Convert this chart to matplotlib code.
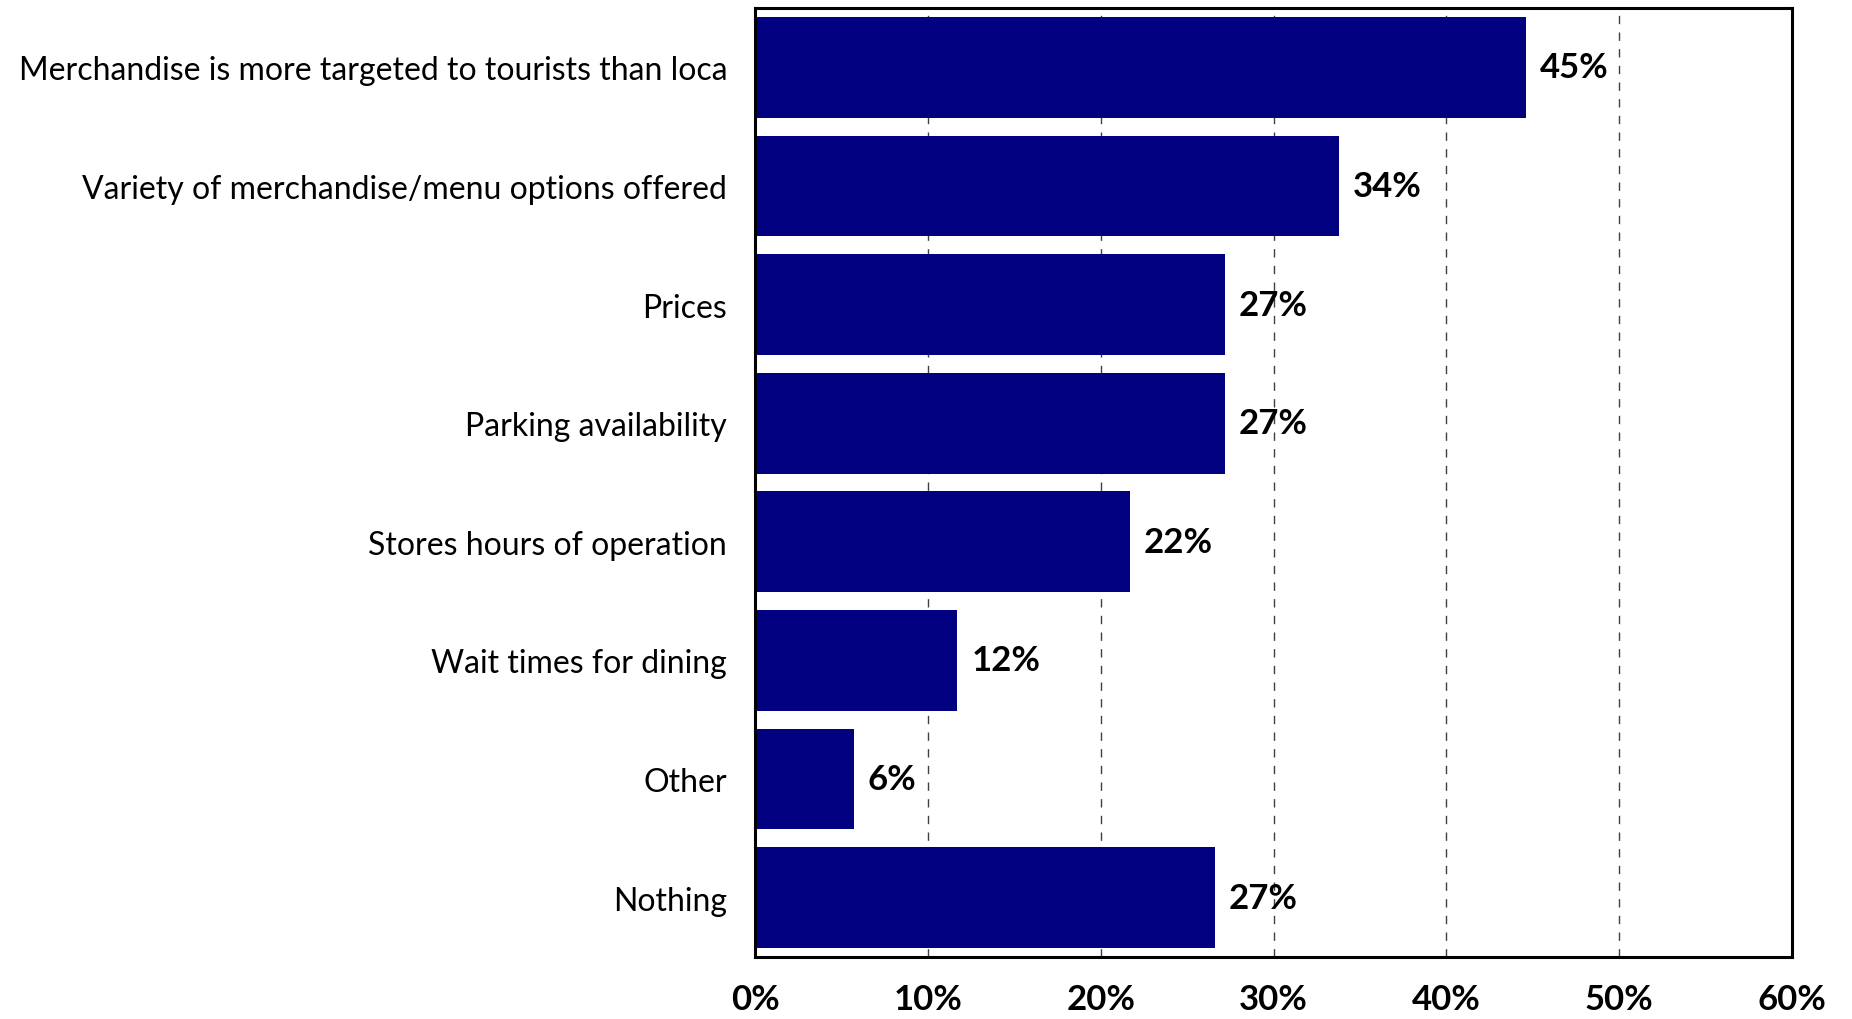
import matplotlib
matplotlib.use("Agg")
import matplotlib.pyplot as plt
from matplotlib.ticker import FixedLocator, FuncFormatter

plt.rcParams['font.family'] = ['Lato', 'DejaVu Sans']

categories = [
    "Merchandise is more targeted to tourists than loca",
    "Variety of merchandise/menu options offered",
    "Prices",
    "Parking availability",
    "Stores hours of operation",
    "Wait times for dining",
    "Other",
    "Nothing",
]
values = [44.6, 33.8, 27.2, 27.2, 21.7, 11.7, 5.7, 26.6]
x_ticks = [0, 10, 20, 30, 40, 50, 60]

bar_color = "#000080"

fig = plt.figure(figsize=(18.52, 10.20), dpi=100)
ax = fig.add_axes([755 / 1852, 1 - 958 / 1020, (1792 - 755) / 1852, (958 - 9) / 1020])

pos = list(range(len(categories)))
bars = ax.barh(pos, values, height=0.85, color=bar_color, zorder=3)

ax.set_ylim(len(categories) - 0.5, -0.5)
ax.set_xlim(0, 60)

ax.set_yticks(pos)
ax.set_yticklabels(categories, fontsize=23)
ax.tick_params(axis='y', length=0, pad=20)

ax.xaxis.set_major_locator(FixedLocator(x_ticks))
ax.xaxis.set_major_formatter(FuncFormatter(lambda v, p: f"{v:.0f}%"))
ax.tick_params(axis='x', length=0, pad=19, labelsize=25)
for lbl in ax.get_xticklabels():
    lbl.set_fontweight('bold')

ax.grid(axis='x', linestyle=(0, (6, 6)), color='#404040', linewidth=1.0, zorder=0)
for sp in ax.spines.values():
    sp.set_linewidth(2.2)
    sp.set_color('black')
    sp.set_zorder(4)

for b, v in zip(bars, values):
    ax.annotate(f"{v:.0f}%", xy=(b.get_width(), b.get_y() + b.get_height() / 2),
                xytext=(14, 0), textcoords='offset pixels',
                ha='left', va='center', fontsize=25, fontweight='bold', zorder=5)

fig.savefig("out.png", dpi=100)
